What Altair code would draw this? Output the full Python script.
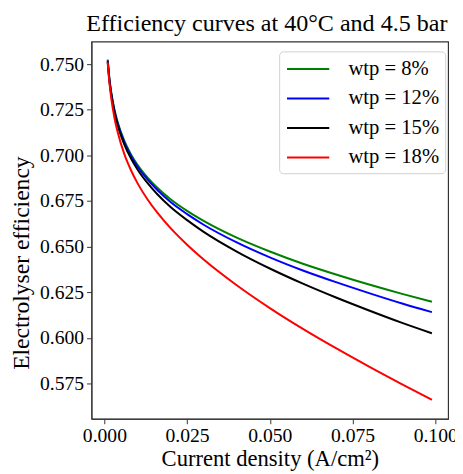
import altair as alt
import pandas as pd

# Current density (A/cm^2)
current_density = [0.001, 0.0015, 0.002, 0.003, 0.004, 0.006, 0.008, 0.010, 0.013, 0.016,
                   0.020, 0.025, 0.030, 0.040, 0.050, 0.060, 0.070, 0.080, 0.090, 0.099]

series_names = ["wtp = 8%", "wtp = 12%", "wtp = 15%", "wtp = 18%"]
series_colors = ["#008000", "#0000ff", "#000000", "#ff0000"]

eff_wtp8 = [0.7525, 0.7424, 0.7354, 0.7254, 0.7183, 0.7081, 0.7007, 0.6949, 0.6880, 0.6823,
            0.6760, 0.6696, 0.6641, 0.6549, 0.6473, 0.6406, 0.6347, 0.6292, 0.6241, 0.6198]
eff_wtp12 = [0.7520, 0.7418, 0.7348, 0.7247, 0.7176, 0.7073, 0.6998, 0.6939, 0.6868, 0.6810,
             0.6744, 0.6678, 0.6620, 0.6523, 0.6441, 0.6369, 0.6305, 0.6245, 0.6188, 0.6141]
eff_wtp15 = [0.7513, 0.7412, 0.7341, 0.7239, 0.7166, 0.7061, 0.6984, 0.6923, 0.6849, 0.6787,
             0.6717, 0.6645, 0.6581, 0.6473, 0.6380, 0.6297, 0.6221, 0.6150, 0.6082, 0.6025]
eff_wtp18 = [0.7510, 0.7401, 0.7322, 0.7209, 0.7128, 0.7008, 0.6920, 0.6848, 0.6760, 0.6686,
             0.6601, 0.6510, 0.6429, 0.6288, 0.6163, 0.6049, 0.5943, 0.5842, 0.5745, 0.5660]

x_ticks = [0.0, 0.025, 0.05, 0.075, 0.1]
y_ticks = [0.575, 0.6, 0.625, 0.65, 0.675, 0.7, 0.725, 0.75]

rows = []
for name, vals in zip(series_names, [eff_wtp8, eff_wtp12, eff_wtp15, eff_wtp18]):
    for x, v in zip(current_density, vals):
        rows.append({"x": x, "eff": v, "series": name})
df = pd.DataFrame(rows)

FONT = "Liberation Serif"

chart = alt.Chart(df).mark_line(strokeWidth=2, interpolate="monotone").encode(
    x=alt.X("x:Q",
            scale=alt.Scale(domain=[-0.0039, 0.1039], nice=False, zero=False),
            axis=alt.Axis(values=x_ticks, format=".3f", title="Current density (A/cm²)",
                          labelPadding=2, titlePadding=3, titleFontSize=23)),
    y=alt.Y("eff:Q",
            scale=alt.Scale(domain=[0.5556, 0.7624], nice=False, zero=False),
            axis=alt.Axis(values=y_ticks, format=".3f", title="Electrolyser efficiency",
                          labelPadding=3, titlePadding=6, titleFontSize=24, titleY=225)),
    color=alt.Color("series:N",
                    scale=alt.Scale(domain=series_names, range=series_colors),
                    legend=alt.Legend(title=None, orient="none", legendX=191, legendY=10,
                                      symbolType="M-2,0H2", symbolSize=462,
                                      symbolStrokeWidth=2, symbolOffset=11.5,
                                      labelOffset=29,
                                      labelFont=FONT, labelFontSize=21, labelColor="#000",
                                      rowPadding=8, padding=6, cornerRadius=4,
                                      strokeColor="#d0d0d0", fillColor="#ffffff")),
).properties(
    width=363,
    height=384,
    title=alt.TitleParams("Efficiency curves at 40°C and 4.5 bar", font=FONT,
                          fontSize=24.5, fontWeight="normal", color="#000", offset=5, dx=-3),
    autosize=alt.AutoSizeParams(type="none"),
    padding={"left": 85, "top": 30, "right": 7, "bottom": 52},
).configure(
    font=FONT
).configure_view(
    stroke="#333333", strokeWidth=1.2
).configure_axis(
    grid=False, domain=True, domainColor="#333333", tickColor="#333333",
    tickSize=5, labelFont=FONT, labelFontSize=20, labelColor="#000",
    titleFont=FONT, titleFontWeight="normal", titleColor="#000"
).configure_legend(
    labelFont=FONT
)

chart.save("out.html", embed_options={"renderer": "svg", "actions": False})
